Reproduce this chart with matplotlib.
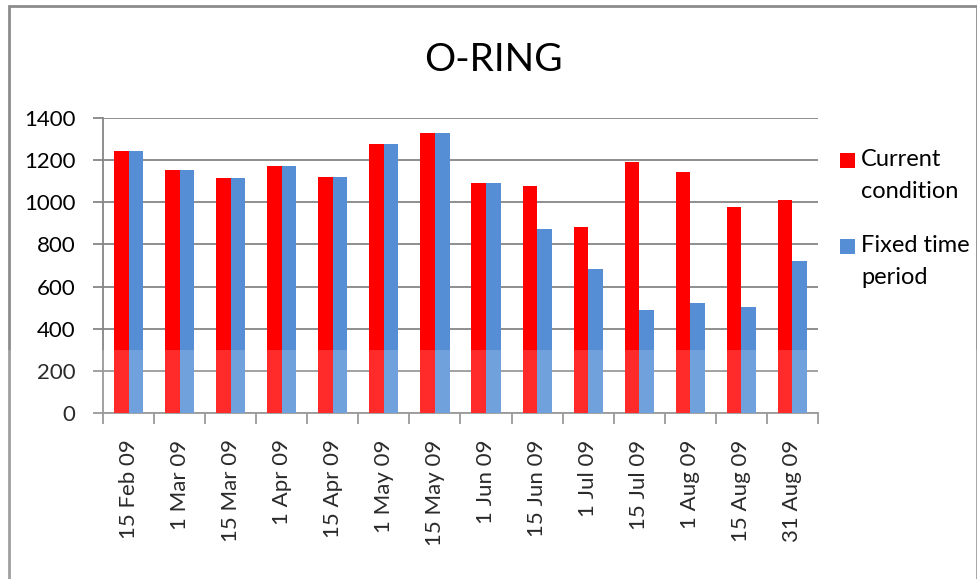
import matplotlib.pyplot as plt
import numpy as np
from matplotlib.patches import Rectangle

plt.rcParams['font.family'] = ['Lato', 'DejaVu Sans']

dates = ["15 Feb 09", "1 Mar 09", "15 Mar 09", "1 Apr 09", "15 Apr 09",
         "1 May 09", "15 May 09", "1 Jun 09", "15 Jun 09", "1 Jul 09",
         "15 Jul 09", "1 Aug 09", "15 Aug 09", "31 Aug 09"]
current_condition = [1243, 1151, 1113, 1171, 1122, 1275, 1331, 1091,
                     1075, 882, 1192, 1143, 976, 1010]
fixed_time_period = [1243, 1151, 1113, 1171, 1122, 1275, 1331, 1091,
                     874, 682, 489, 522, 503, 721]
series_names = ["Current\ncondition", "Fixed time\nperiod"]

RED = "#FF0000"
BLUE = "#558ED5"
GRID = "#868686"

W, H = 978, 579
fig = plt.figure(figsize=(W / 100, H / 100), dpi=100)
ax = fig.add_axes([103 / W, 1 - 413 / H, (818 - 103) / W, (413 - 118) / H])

x = np.arange(len(dates))
bw = 0.285
ax.bar(x - bw / 2, current_condition, bw, color=RED, zorder=3)
ax.bar(x + bw / 2, fixed_time_period, bw, color=BLUE, zorder=3)

ax.set_xlim(-0.5, len(dates) - 0.5)
ax.set_ylim(0, 1400)
ax.set_yticks(range(0, 1401, 200))
ax.yaxis.grid(True, color=GRID, linewidth=1.3, zorder=0)
ax.set_axisbelow(True)

ax.set_xticks(x)
ax.set_xticklabels(dates, rotation=90, fontsize=16, va="top", ha="center")
ax.set_xticks(np.arange(-0.5, len(dates)), minor=True)
ax.tick_params(axis="x", which="major", length=0, pad=19)
ax.tick_params(axis="x", which="minor", length=8, color=GRID, width=1.3)
ax.tick_params(axis="y", length=7, color=GRID, width=1.3, labelsize=16, pad=13)

for side in ("top", "right"):
    ax.spines[side].set_visible(False)
for side in ("left", "bottom"):
    ax.spines[side].set_color(GRID)
    ax.spines[side].set_linewidth(1.3)

fig.text(493 / W, 1 - 60 / H, "O-RING", fontsize=28, ha="center", va="center")

# legend: colour square beside the first line of each wrapped name
legend_tops = [160, 246]
for name, color, ytop in zip(series_names, [RED, BLUE], legend_tops):
    fig.patches.append(Rectangle((840 / W, 1 - (ytop + 7.5) / H), 15 / W, 15 / H,
                                 transform=fig.transFigure, facecolor=color,
                                 edgecolor="none"))
    for i, line in enumerate(name.split("\n")):
        fig.text(861 / W, 1 - (ytop + i * 31) / H, line, fontsize=17,
                 ha="left", va="center")

# chart frame
fig.patches.append(Rectangle((9 / W, -0.01), (977 - 9) / W, 1 - 6 / H + 0.01,
                             transform=fig.transFigure, fill=False,
                             edgecolor="#8C8C8C", linewidth=2))

# faded lower band over the page
fig.patches.append(Rectangle((0, 0), 1, 1 - 350 / H, transform=fig.transFigure,
                             facecolor="white", alpha=0.17, edgecolor="none", zorder=10))

fig.savefig("out.png", dpi=100)
